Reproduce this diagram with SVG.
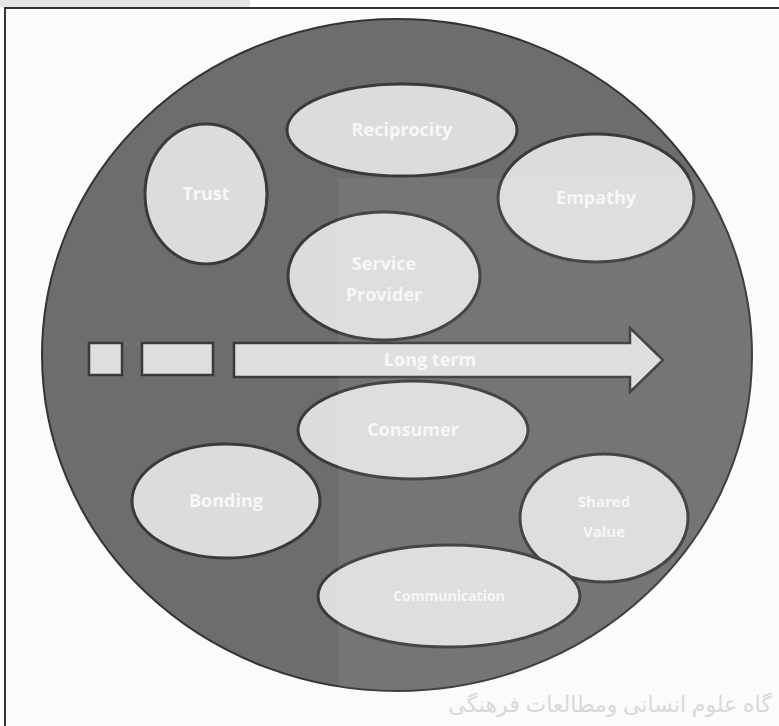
<svg xmlns="http://www.w3.org/2000/svg" width="779" height="726" viewBox="0 0 779 726">
<defs>
<style>
.node{fill:#dcdcdc;stroke:#3a3a3a;stroke-width:3}
.lbl{font-family:"Open Sans","DejaVu Sans",sans-serif;font-size:18px;fill:#f7f7f7;text-anchor:middle;font-weight:bold}
.box{fill:#dedede;stroke:#3a3a3a;stroke-width:2.5}
.wm{font-family:"Noto Sans","DejaVu Sans",sans-serif;font-size:22px;fill:#d8d8d8;text-anchor:middle}
</style>
</defs>
<rect x="0" y="0" width="779" height="726" fill="#ffffff"/>
<rect x="0" y="0" width="250" height="7" fill="#e6e6e6"/>
<rect x="5" y="8" width="780" height="730" fill="#fbfbfb" stroke="#333" stroke-width="2"/>
<g id="background">
<ellipse cx="397" cy="355" rx="355" ry="336" fill="#6d6d6d" stroke="#333" stroke-width="2"/>
</g>
<g id="reciprocity"><ellipse class="node" cx="402" cy="130" rx="115" ry="46"/><text class="lbl" x="402" y="136">Reciprocity</text></g>
<g id="trust"><ellipse class="node" cx="206" cy="194" rx="61" ry="70"/><text class="lbl" x="206" y="200">Trust</text></g>
<g id="empathy"><ellipse class="node" cx="596" cy="198" rx="98" ry="64"/><text class="lbl" x="596" y="204">Empathy</text></g>
<g id="service-provider"><ellipse class="node" cx="384" cy="276" rx="96" ry="64"/><text class="lbl" x="384" y="270">Service</text><text class="lbl" x="384" y="301">Provider</text></g>
<g id="consumer"><ellipse class="node" cx="413" cy="430" rx="115" ry="49"/><text class="lbl" x="413" y="436">Consumer</text></g>
<g id="bonding"><ellipse class="node" cx="226" cy="501" rx="94" ry="57"/><text class="lbl" x="226" y="507">Bonding</text></g>
<g id="shared-value"><ellipse class="node" cx="604" cy="518" rx="84" ry="64"/><text class="lbl" x="604" y="507" style="font-size:15px">Shared</text><text class="lbl" x="604" y="537" style="font-size:15px">Value</text></g>
<g id="communication"><ellipse class="node" cx="449" cy="596" rx="131" ry="51"/><text class="lbl" x="449" y="601" style="font-size:14px">Communication</text></g>
<g id="connectors">
<rect class="box" x="89" y="343" width="33" height="32"/>
<rect class="box" x="142" y="343" width="71" height="32"/>
<path class="box" d="M234 343 H630 V328 L663 360 L630 392 V377 H234 Z"/>
<text class="lbl" x="430" y="366">Long term</text>
</g>
<rect x="338" y="178" width="441" height="548" fill="#ffffff" opacity="0.06"/>
<text class="wm" x="610" y="712">گاه علوم انسانی ومطالعات فرهنگی</text>
</svg>
